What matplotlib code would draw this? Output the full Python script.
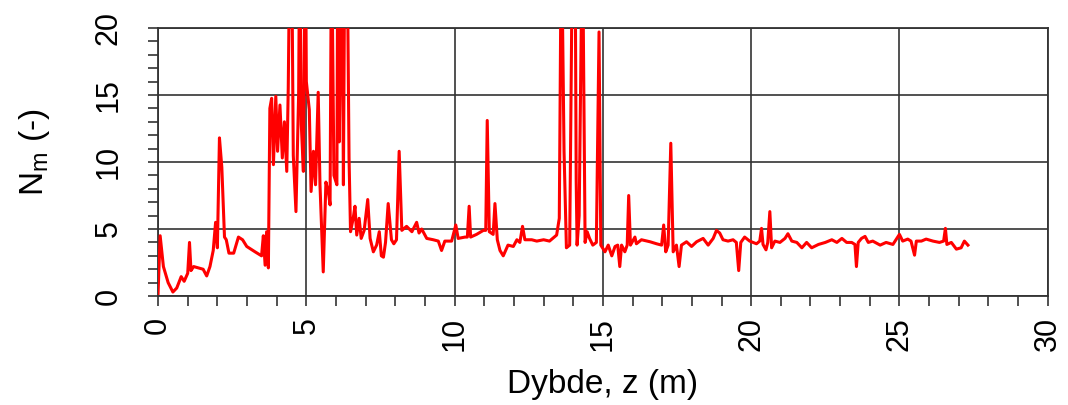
import matplotlib
matplotlib.use("Agg")
import matplotlib.pyplot as plt
from matplotlib.ticker import MultipleLocator

plt.rcParams['font.family'] = ['Liberation Sans', 'DejaVu Sans']

depth = [0.0, 0.07, 0.18, 0.34, 0.5, 0.63, 0.78, 0.88, 1.0, 1.06, 1.11, 1.2, 1.36, 1.52, 1.64, 1.75,
         1.86, 1.94, 2.0, 2.07, 2.15, 2.24, 2.3, 2.39, 2.55, 2.71, 2.85, 2.99, 3.27, 3.49, 3.55,
         3.61, 3.66, 3.72, 3.77, 3.83, 3.89, 3.97, 4.03, 4.11, 4.19, 4.26, 4.34, 4.39, 4.45, 4.5,
         4.56, 4.65, 4.74, 4.78, 4.83, 4.9, 4.97, 5.0, 5.1, 5.16, 5.24, 5.31, 5.4, 5.46, 5.57,
         5.66, 5.74, 5.8, 5.85, 5.93, 6.03, 6.06, 6.11, 6.2, 6.25, 6.3, 6.37, 6.44, 6.49, 6.58,
         6.64, 6.7, 6.78, 6.85, 6.95, 7.07, 7.15, 7.26, 7.37, 7.46, 7.53, 7.6, 7.67, 7.76, 7.87,
         7.95, 8.04, 8.13, 8.22, 8.38, 8.56, 8.72, 8.8, 8.89, 9.06, 9.28, 9.45, 9.56, 9.67, 9.9,
         10.04, 10.12, 10.35, 10.43, 10.49, 10.54, 10.74, 10.97, 11.05, 11.1, 11.17, 11.3, 11.36,
         11.44, 11.53, 11.64, 11.8, 11.98, 12.1, 12.2, 12.29, 12.37, 12.6, 12.77, 13.0, 13.2,
         13.44, 13.53, 13.6, 13.69, 13.77, 13.88, 13.98, 14.06, 14.1, 14.13, 14.2, 14.31, 14.4,
         14.47, 14.55, 14.66, 14.78, 14.87, 14.93, 15.07, 15.18, 15.3, 15.41, 15.5, 15.57, 15.63,
         15.74, 15.82, 15.87, 15.93, 16.08, 16.13, 16.3, 16.59, 16.81, 16.98, 17.05, 17.12, 17.2,
         17.29, 17.37, 17.48, 17.57, 17.65, 17.82, 17.99, 18.16, 18.38, 18.55, 18.72, 18.83,
         18.94, 19.05, 19.22, 19.39, 19.5, 19.58, 19.65, 19.78, 19.95, 20.18, 20.29, 20.35, 20.4,
         20.5, 20.56, 20.63, 20.69, 20.8, 20.97, 21.14, 21.24, 21.37, 21.54, 21.71, 21.87, 22.04,
         22.27, 22.5, 22.72, 22.89, 23.06, 23.22, 23.39, 23.5, 23.55, 23.61, 23.72, 23.84, 23.95,
         24.1, 24.35, 24.55, 24.78, 25.0, 25.11, 25.28, 25.39, 25.51, 25.57, 25.74, 25.9, 26.13,
         26.35, 26.49, 26.55, 26.6, 26.75, 26.92, 27.08, 27.19, 27.31]

nm = [0.2, 4.5, 2.2, 1.0, 0.3, 0.6, 1.45, 1.1, 1.7, 4.0, 1.9, 2.2, 2.1, 2.0, 1.5, 2.2,
      3.4, 5.5, 3.6, 11.8, 9.6, 4.4, 4.2, 3.2, 3.2, 4.4, 4.2, 3.7, 3.3, 3.0, 4.5,
      2.3, 4.8, 2.1, 14.0, 14.75, 9.8, 14.9, 10.8, 14.25, 10.3, 13.0, 9.3, 15.5, 28.0, 28.0,
      10.5, 6.3, 15.0, 28.0, 12.8, 9.3, 28.0, 16.0, 13.9, 7.8, 10.8, 8.3, 15.2, 8.3, 1.8,
      8.5, 7.8, 6.8, 28.0, 9.0, 8.3, 28.0, 11.5, 28.0, 8.3, 28.0, 28.0, 10.3, 4.8, 5.8,
      6.7, 4.55, 5.8, 4.3, 4.9, 7.2, 4.3, 3.3, 3.8, 4.8, 3.0, 2.9, 4.0, 6.9, 4.2,
      3.9, 4.2, 10.8, 4.9, 5.2, 4.8, 5.5, 4.7, 5.0, 4.3, 4.2, 4.1, 3.4, 4.1, 4.1,
      5.3, 4.3, 4.4, 4.4, 6.7, 4.4, 4.6, 4.9, 4.9, 13.1, 4.8, 4.6, 6.9,
      4.2, 3.4, 3.0, 3.8, 3.7, 4.2, 4.0, 5.2, 4.2, 4.2, 4.1, 4.2, 4.1,
      4.55, 5.8, 28.0, 10.8, 3.6, 3.8, 28.0, 28.0, 8.6, 3.8, 6.0, 28.0, 4.0,
      4.8, 4.3, 3.8, 4.0, 19.7, 3.8, 3.3, 3.8, 3.0, 3.7, 3.8, 2.2, 3.8,
      3.3, 3.8, 7.5, 3.8, 4.4, 3.9, 4.2, 4.05, 3.9, 3.8, 5.3, 3.3, 3.8,
      11.4, 3.3, 3.8, 2.2, 3.8, 4.05, 3.7, 4.05, 4.3, 3.8, 4.3, 4.9,
      4.7, 4.2, 4.1, 4.2, 4.0, 1.9, 4.0, 4.4, 4.1, 3.9, 4.1, 5.05, 3.85,
      3.45, 4.0, 6.3, 3.6, 4.1, 4.0, 4.3, 4.65, 4.1, 4.0, 3.6, 4.0, 3.6,
      3.85, 4.0, 4.2, 4.0, 4.3, 4.0, 4.0, 3.85, 2.2, 4.0, 4.3, 4.45, 4.0,
      4.1, 3.8, 4.0, 3.85, 4.6, 4.1, 4.25, 4.1, 3.05, 4.1, 4.1, 4.25, 4.1,
      4.0, 4.1, 5.05, 3.85, 4.0, 3.5, 3.6, 4.1, 3.8]

x_ticks = [0, 5, 10, 15, 20, 25, 30]
y_ticks = [0, 5, 10, 15, 20]

fig = plt.figure(figsize=(10.68, 4.05), dpi=100)
ax = fig.add_axes([0.148, 0.269, 0.833, 0.662])
ax.plot(depth, nm, color='#ff0000', lw=2.2, zorder=3)
ax.set_xlim(0, 30)
ax.set_ylim(0, 20)
ax.set_xticks(x_ticks)
ax.set_yticks(y_ticks)
ax.set_xticklabels([str(v) for v in x_ticks], rotation=90, fontsize=22)
ax.set_yticklabels([str(v) for v in y_ticks], rotation=90, fontsize=22, va='center')
ax.xaxis.set_minor_locator(MultipleLocator(1))
ax.yaxis.set_minor_locator(MultipleLocator(1))
ax.tick_params(which='both', direction='out', length=7, width=1.2, color='#333333')
ax.tick_params(axis='x', which='major', pad=8)
ax.tick_params(axis='y', which='major', pad=18)
ax.grid(True, which='major', color='#333333', lw=1.2)
for s in ax.spines.values():
    s.set_color('#333333')
    s.set_linewidth(1.3)
ax.set_xlabel('Dybde, z (m)', fontsize=24, labelpad=13)
ax.set_ylabel('N$_\\mathregular{m}$ (-)', fontsize=24)
ax.yaxis.set_label_coords(-0.119, 0.535)
fig.savefig('out.png', dpi=100)
